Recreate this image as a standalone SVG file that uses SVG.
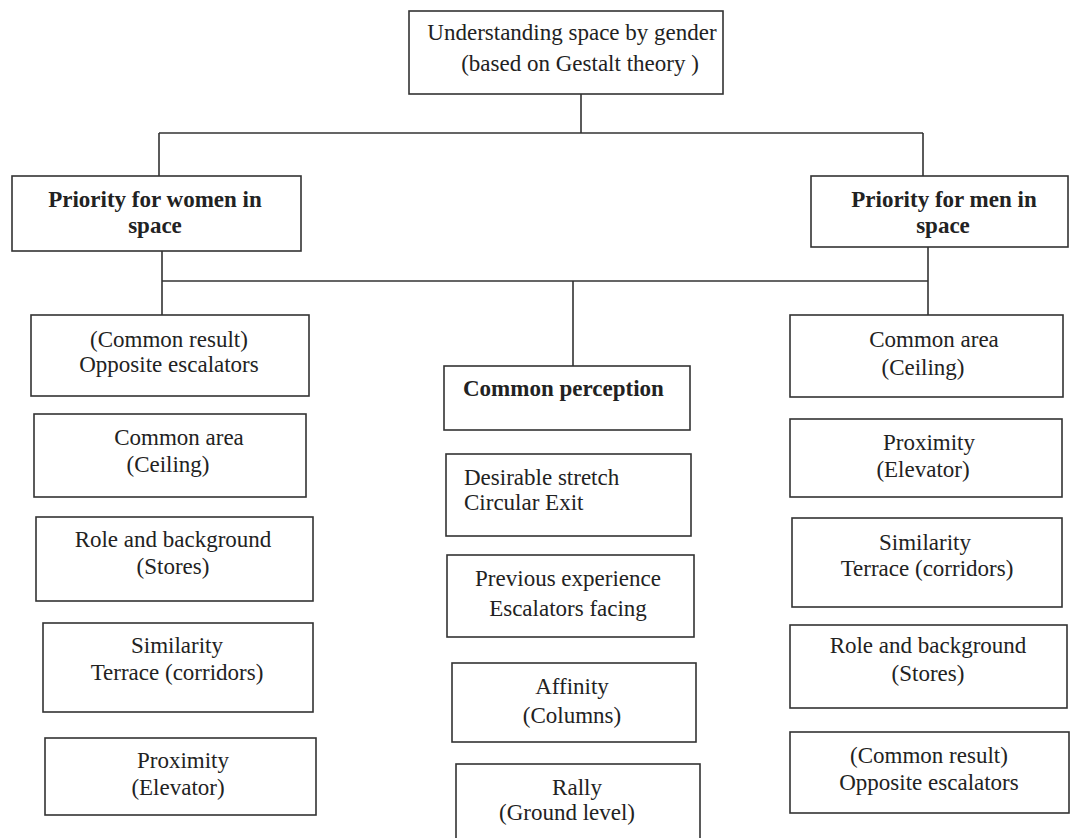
<svg xmlns="http://www.w3.org/2000/svg" width="1071" height="838" viewBox="0 0 1071 838">
<style>
.box{fill:#fff;stroke:#333;stroke-width:1.6}
.t{font-family:"Liberation Serif","Times New Roman",serif;font-size:23px;fill:#222;text-anchor:middle}
.l{text-anchor:start}
.b{font-weight:bold}
.c{fill:none;stroke:#333;stroke-width:1.6}
</style>
<rect width="1071" height="838" fill="#fff"/>
<g id="connectors">
<path class="c" d="M581 94V133M159 133H923M159 133V176M923 133V176"/>
<path class="c" d="M162 251V315M928 247V315M162 281H928M573 281V366"/>
</g>
<g id="root">
<rect class="box" x="409" y="11" width="314" height="83"/>
<text class="t" x="572" y="40">Understanding space by gender</text>
<text class="t" x="580" y="71">(based on Gestalt theory )</text>
</g>
<g id="women">
<rect class="box" x="12" y="176" width="289" height="75"/>
<text class="t b" x="155" y="207">Priority for women in</text>
<text class="t b" x="155" y="233">space</text>
</g>
<g id="men">
<rect class="box" x="811" y="176" width="257" height="71"/>
<text class="t b" x="944" y="207">Priority for men in</text>
<text class="t b" x="943" y="233">space</text>
</g>
<g id="w1">
<rect class="box" x="31" y="315" width="278" height="81"/>
<text class="t" x="169" y="347">(Common result)</text>
<text class="t" x="169" y="372">Opposite escalators</text>
</g>
<g id="w2">
<rect class="box" x="34" y="414" width="272" height="83"/>
<text class="t" x="179" y="445">Common area</text>
<text class="t" x="168" y="472">(Ceiling)</text>
</g>
<g id="w3">
<rect class="box" x="36" y="517" width="277" height="84"/>
<text class="t" x="173" y="547">Role and background</text>
<text class="t" x="173" y="574">(Stores)</text>
</g>
<g id="w4">
<rect class="box" x="43" y="623" width="270" height="89"/>
<text class="t" x="177" y="653">Similarity</text>
<text class="t" x="177" y="680">Terrace (corridors)</text>
</g>
<g id="w5">
<rect class="box" x="45" y="738" width="271" height="77"/>
<text class="t" x="183" y="768">Proximity</text>
<text class="t" x="178" y="795">(Elevator)</text>
</g>
<g id="m1">
<rect class="box" x="790" y="315" width="273" height="82"/>
<text class="t" x="934" y="347">Common area</text>
<text class="t" x="923" y="375">(Ceiling)</text>
</g>
<g id="m2">
<rect class="box" x="790" y="419" width="272" height="78"/>
<text class="t" x="929" y="450">Proximity</text>
<text class="t" x="923" y="477">(Elevator)</text>
</g>
<g id="m3">
<rect class="box" x="792" y="518" width="270" height="89"/>
<text class="t" x="925" y="550">Similarity</text>
<text class="t" x="927" y="576">Terrace (corridors)</text>
</g>
<g id="m4">
<rect class="box" x="790" y="625" width="277" height="83"/>
<text class="t" x="928" y="653">Role and background</text>
<text class="t" x="928" y="681">(Stores)</text>
</g>
<g id="m5">
<rect class="box" x="790" y="732" width="279" height="81"/>
<text class="t" x="929" y="763">(Common result)</text>
<text class="t" x="929" y="790">Opposite escalators</text>
</g>
<g id="common">
<rect class="box" x="444" y="366" width="246" height="64"/>
<text class="t l b" x="463" y="396">Common perception</text>
</g>
<g id="c1">
<rect class="box" x="446" y="454" width="245" height="82"/>
<text class="t l" x="464" y="485">Desirable stretch</text>
<text class="t l" x="464" y="510">Circular Exit</text>
</g>
<g id="c2">
<rect class="box" x="447" y="555" width="247" height="82"/>
<text class="t" x="568" y="586">Previous experience</text>
<text class="t" x="568" y="616">Escalators facing</text>
</g>
<g id="c3">
<rect class="box" x="452" y="663" width="244" height="79"/>
<text class="t" x="572" y="694">Affinity</text>
<text class="t" x="572" y="723">(Columns)</text>
</g>
<g id="c4">
<rect class="box" x="456" y="764" width="244" height="90"/>
<text class="t" x="577" y="795">Rally</text>
<text class="t" x="567" y="820">(Ground level)</text>
</g>
</svg>
